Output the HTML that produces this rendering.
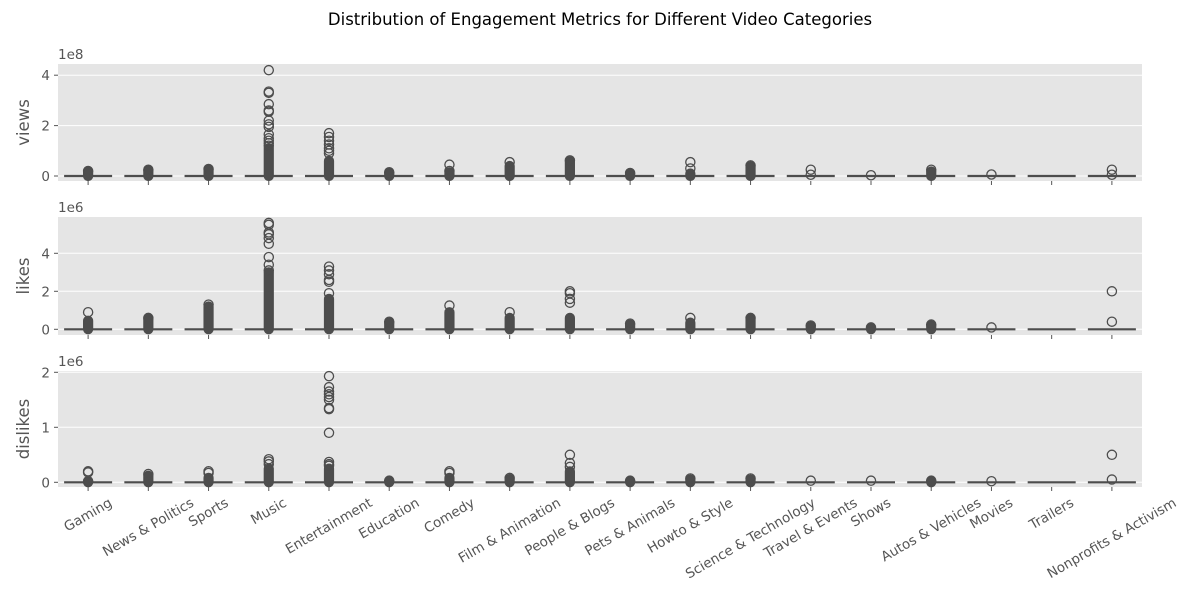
<!DOCTYPE html>
<html><head><meta charset="utf-8"><style>
html,body{margin:0;padding:0;background:#fff}
svg{display:block;font-family:"DejaVu Sans","Liberation Sans",sans-serif}
</style></head><body>
<svg id="chart" width="1200" height="600" viewBox="0 0 1200 600">
<text x="600" y="25" text-anchor="middle" font-size="16.5" fill="#000">Distribution of Engagement Metrics for Different Video Categories</text>
</svg>
<script>
const categories = ["Gaming","News & Politics","Sports","Music","Entertainment","Education","Comedy","Film & Animation","People & Blogs","Pets & Animals","Howto & Style","Science & Technology","Travel & Events","Shows","Autos & Vehicles","Movies","Trailers","Nonprofits & Activism"];
// views in 1e8 : individual outliers and dense outlier stack top
const viewsOutliers = [[0.2],[0.25],[0.28],[4.2,3.35,3.3,2.85,2.6,2.55,2.2,2.05,1.95,1.65,1.5,1.4,1.3,1.2],[1.7,1.55,1.4,1.25,1.1,1.0,0.9],[0.15],[0.45,0.2],[0.55],[0.62],[0.12],[0.55,0.3],[0.42],[0.25,0.05],[0.03],[0.25],[0.06],[],[0.25,0.05]];
const viewsDense = [0.18,0.22,0.26,1.1,0.6,0.12,0.15,0.4,0.58,0.1,0.1,0.38,0,0,0.18,0,0,0];
// likes in 1e6
const likesOutliers = [[0.9],[0.6],[1.3],[5.6,5.5,5.1,5.0,4.8,4.5,3.8,3.4,3.1],[3.3,3.1,2.9,2.6,2.5,1.9],[0.4],[1.25],[0.9],[2.0,1.9,1.6,1.4],[0.3],[0.6],[0.6],[0.2],[0.1],[0.25],[0.1],[],[2.0,0.4]];
const likesDense = [0.45,0.55,1.2,3.0,1.6,0.35,0.9,0.6,0.6,0.25,0.35,0.55,0.15,0.05,0.2,0,0,0];
// dislikes in 1e6
const dislikesOutliers = [[0.2,0.18,0.02],[0.15],[0.2,0.17],[0.42,0.38,0.33],[1.93,1.73,1.65,1.6,1.55,1.5,1.35,1.33,0.9,0.37,0.33,0.3],[0.03],[0.2,0.17],[0.08],[0.5,0.35,0.28],[0.03],[0.07],[0.07],[0.03],[0.03],[0.03],[0.02],[],[0.5,0.05]];
const dislikesDense = [0.02,0.12,0.08,0.25,0.25,0.02,0.08,0.06,0.2,0.02,0.05,0.05,0,0,0.02,0,0,0];

const viewsTicks = [0,2,4], likesTicks = [0,2,4], dislikesTicks = [0,1,2];

const NS = "http://www.w3.org/2000/svg";
const svg = document.getElementById("chart");
function mk(tag, attrs, parent){const e=document.createElementNS(NS,tag);for(const k in attrs)e.setAttribute(k,attrs[k]);(parent||svg).appendChild(e);return e;}

const L=58, R=1142, step=(R-L)/categories.length;
function xc(i){return L+step*(i+0.5);}

const panels = [
 {name:"views", top:64, bot:181, y0:176, ppu:25.2, ticks:viewsTicks, outl:viewsOutliers, dense:viewsDense, exp:"1e8", label:"views"},
 {name:"likes", top:217, bot:335, y0:329.3, ppu:19, ticks:likesTicks, outl:likesOutliers, dense:likesDense, exp:"1e6", label:"likes"},
 {name:"dislikes", top:371, bot:487, y0:482.3, ppu:55, ticks:dislikesTicks, outl:dislikesOutliers, dense:dislikesDense, exp:"1e6", label:"dislikes"}
];

panels.forEach(p=>{
  const g = mk("g",{});
  
  
  const y = v => p.y0 - v*p.ppu;
  const bg = mk("rect",{x:L,y:p.top,width:R-L,height:p.bot-p.top,fill:"#e5e5e5"},g);
  
  
  p.ticks.forEach(t=>{
    const gl = mk("line",{x1:L,x2:R,y1:y(t),y2:y(t),stroke:"#fff","stroke-width":1},g);
    
    
    mk("line",{x1:L-4,x2:L,y1:y(t),y2:y(t),stroke:"#555","stroke-width":1},g);
    const tl = mk("text",{x:L-8,y:y(t)+5,"text-anchor":"end","font-size":13.5,fill:"#555"},g);
    tl.textContent=t;
    
    
  });
  const ex = mk("text",{x:L,y:p.top-5,"font-size":13.5,fill:"#555"},g);
  ex.textContent=p.exp;
  
  
  const yl = mk("text",{x:0,y:0,"text-anchor":"middle","font-size":16.5,fill:"#555",transform:`translate(29,${(p.top+p.bot)/2}) rotate(-90)`},g);
  yl.textContent=p.label;
  
  
  categories.forEach((c,i)=>{
    const cx=xc(i);
    mk("line",{x1:cx,x2:cx,y1:p.bot,y2:p.bot+4,stroke:"#555","stroke-width":1},g);
    const bx = mk("line",{x1:cx-24,x2:cx+24,y1:y(0),y2:y(0),stroke:"#4d4d4d","stroke-width":2.2},g);
    
    
    if(p.dense[i]>0){
      const d = mk("rect",{x:cx-4.5,y:y(p.dense[i])-4.5,width:9,height:p.dense[i]*p.ppu+9,rx:4.5,fill:"#4d4d4d",stroke:"#4d4d4d","stroke-width":1.2},g);
      
      
    }
    p.outl[i].forEach(v=>{
      const o = mk("circle",{cx:cx,cy:y(v),r:4.6,fill:"none",stroke:"#4d4d4d","stroke-width":1.3},g);
      
      
    });
  });
});

categories.forEach((c,i)=>{
  const t = mk("text",{x:0,y:0,"text-anchor":"middle","dominant-baseline":"central","font-size":13.5,fill:"#555"});
  t.textContent=c;
  
  
  const w = t.getComputedTextLength();
  const h = 16;
  const cy = 495 + (w*0.5 + h*0.866)/2;
  t.setAttribute("transform",`translate(${xc(i)},${cy}) rotate(-30)`);
});
</script>
</body></html>
